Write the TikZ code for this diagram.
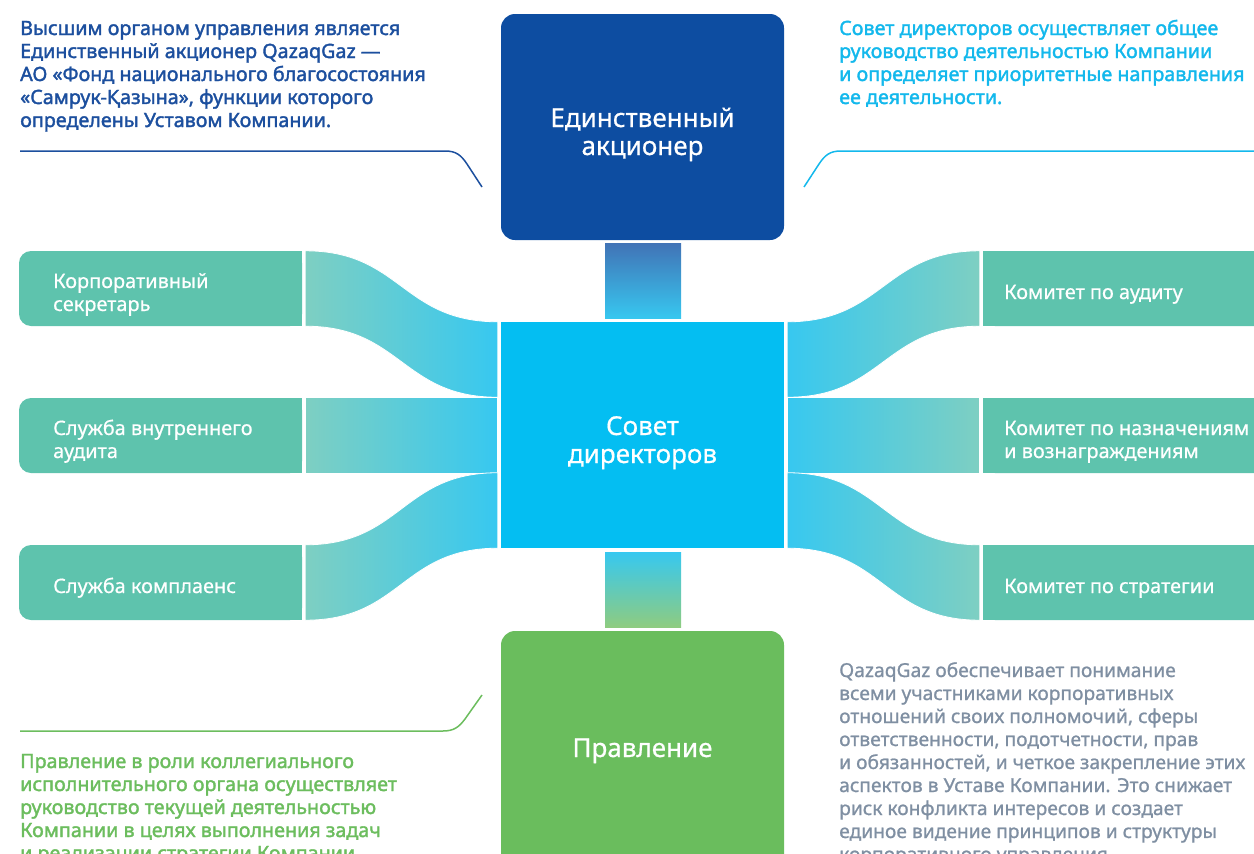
\documentclass[tikz,border=0pt]{standalone}
\usepackage{fontspec}
\setmainfont{Noto Sans}
\newfontfamily\parafont[FakeBold=1.8]{Noto Sans}
\newfontfamily\grayfont[FakeBold=1]{Noto Sans}
\newfontfamily\lblfont[FakeBold=0.6]{Noto Sans}
\usetikzlibrary{calc}
\definecolor{dblue}{HTML}{0D4DA1}
\definecolor{cyanbox}{HTML}{04BEF2}
\definecolor{greenbox}{HTML}{6ABD5D}
\definecolor{tealbox}{HTML}{5EC3AD}
\definecolor{bandteal}{HTML}{7ECFC2}
\definecolor{bandcyan}{HTML}{37C8F0}
\definecolor{connblue}{HTML}{4173B6}
\definecolor{conngreen}{HTML}{8FCC7F}
\definecolor{txtblue}{HTML}{1C4F9E}
\definecolor{txtcyan}{HTML}{13B8EC}
\definecolor{txtgreen}{HTML}{6CBD5E}
\definecolor{txtgray}{HTML}{7F8FA2}
\begin{document}
\begin{tikzpicture}[x=1pt,y=-1pt,
  orgbox/.style={inner sep=0pt, minimum width=283pt},
  sidebox/.style={fill=tealbox, rounded corners=12pt, inner sep=0pt, minimum width=283pt, minimum height=75pt},
  lbl/.style={text=white, font=\lblfont\fontsize{19.9}{23}\selectfont, inner sep=0pt, anchor=base west},
  biglbl/.style={text=white, font=\lblfont\fontsize{26}{28}\selectfont, inner sep=0pt, anchor=base},
  para/.style={inner sep=0pt, anchor=base west, font=\parafont\fontsize{19.7}{23}\selectfont},
  grpara/.style={inner sep=0pt, anchor=base west, font=\grayfont\fontsize{19.2}{23}\selectfont},
  deco/.style={line width=1.5pt},
  band/.style={draw=white, line width=0.8pt}]
\useasboundingbox (0,0) rectangle (1254,854);
\clip (0,0) rectangle (1254,854);

% main boxes
\node[orgbox, fill=dblue, rounded corners=14pt, minimum height=226pt] (sh) at (642.5,127) {};
\node[orgbox, fill=cyanbox, minimum height=226pt] (sd) at (642.5,435) {};
\node[orgbox, fill=greenbox, rounded corners=14pt, minimum height=300pt] (pr) at (642.5,781) {};

% vertical connectors
\shade[top color=connblue, bottom color=bandcyan] ($(sh.south)+(-37.5,3)$) rectangle ($(sd.north)+(38.5,-3)$);
\shade[top color=bandcyan, bottom color=conngreen] ($(sd.south)+(-37.5,4)$) rectangle ($(pr.north)+(38.5,-3)$);

% side boxes left
\node[sidebox] (cs) at (160.5,288.5) {};
\node[sidebox] (isa) at (160.5,435.5) {};
\node[sidebox] (kc) at (160.5,582.5) {};
\foreach \n in {cs,isa,kc}
  \fill[tealbox] ($(\n.north east)+(-20,0)$) rectangle (\n.south east);
% side boxes right
\node[sidebox] (ka) at (1124.5,288.5) {};
\node[sidebox] (kn) at (1124.5,435.5) {};
\node[sidebox] (ks) at (1124.5,582.5) {};
\foreach \n in {ka,kn,ks}
  \fill[tealbox] ($(\n.north west)+(0,0)$) rectangle ($(\n.south west)+(20,0)$);

% anchor points on the board box
\coordinate (w0) at ($(sd.north west)+(-3,0)$);
\coordinate (w1) at ($(sd.north west)!1/3!(sd.south west)+(-3,0)$);
\coordinate (w2) at ($(sd.north west)!2/3!(sd.south west)+(-3,0)$);
\coordinate (w3) at ($(sd.south west)+(-3,0)$);
\coordinate (e0) at ($(sd.north east)+(3,0)$);
\coordinate (e1) at ($(sd.north east)!1/3!(sd.south east)+(3,0)$);
\coordinate (e2) at ($(sd.north east)!2/3!(sd.south east)+(3,0)$);
\coordinate (e3) at ($(sd.south east)+(3,0)$);

% left bands
\shade[band, left color=bandteal, right color=bandcyan]
  ($(cs.north east)+(3,0)$) to[out=0,in=180,looseness=1.2] (w0) -- (w1)
  to[out=180,in=0,looseness=1.2] ($(cs.south east)+(3,0)$) -- cycle;
\shade[band, left color=bandteal, right color=bandcyan]
  ($(isa.north east)+(3,0)$) -- ($(w1|-isa.north)$) -- ($(w2|-isa.south)$) -- ($(isa.south east)+(3,0)$) -- cycle;
\shade[band, left color=bandteal, right color=bandcyan]
  ($(kc.north east)+(3,0)$) to[out=0,in=180,looseness=1.2] (w2) -- (w3)
  to[out=180,in=0,looseness=1.2] ($(kc.south east)+(3,0)$) -- cycle;
% right bands
\shade[band, left color=bandcyan, right color=bandteal]
  ($(ka.north west)+(-3,0)$) to[out=180,in=0,looseness=1.2] (e0) -- (e1)
  to[out=0,in=180,looseness=1.2] ($(ka.south west)+(-3,0)$) -- cycle;
\shade[band, left color=bandcyan, right color=bandteal]
  ($(kn.north west)+(-3,0)$) -- ($(e1|-kn.north)$) -- ($(e2|-kn.south)$) -- ($(kn.south west)+(-3,0)$) -- cycle;
\shade[band, left color=bandcyan, right color=bandteal]
  ($(ks.north west)+(-3,0)$) to[out=180,in=0,looseness=1.2] (e2) -- (e3)
  to[out=0,in=180,looseness=1.2] ($(ks.south west)+(-3,0)$) -- cycle;

% main labels
\node[biglbl] (sh1) at (642.5,127) {Единственный};
\node[biglbl] (sh2) at (642.5,155) {акционер};
\node[biglbl] (sd1) at (642.5,435) {Совет};
\node[biglbl] (sd2) at (642.5,463) {директоров};
\node[biglbl] (pr1) at (642.5,757) {Правление};

% side labels
\node[lbl] (cs1) at (53,288) {Корпоративный};
\node[lbl] (cs2) at (53,311) {секретарь};
\node[lbl] (isa1) at (53,435) {Служба внутреннего};
\node[lbl] (isa2) at (53,458) {аудита};
\node[lbl] (kc1) at (53,593) {Служба комплаенс};
\node[lbl] (ka1) at (1004,299) {Комитет по аудиту};
\node[lbl] (kn1) at (1004,435) {Комитет по назначениям};
\node[lbl] (kn2) at (1004,458) {и вознаграждениям};
\node[lbl] (ks1) at (1004,593) {Комитет по стратегии};

% decorative lines
\draw[deco, txtblue] (20,151) -- (445,151) .. controls (456,151) and (461,155) .. (467,164) -- (482,187);
\draw[deco, txtcyan] (804,187) -- (819,164) .. controls (825,155) and (830,151) .. (841,151) -- (1254,151);
\draw[deco, txtgreen] (20,731) -- (443,731) .. controls (454,731) and (459,727) .. (465,719) -- (482,695);

% paragraphs
\foreach \t [count=\i from 0] in {{Высшим органом управления является},{Единственный акционер QazaqGaz —},{АО «Фонд национального благосостояния},{«Самрук-Қазына», функции которого},{определены Уставом Компании.}}
  \node[para, text=txtblue] (tl\i) at (20,35+23*\i) {\t};
\foreach \t [count=\i from 0] in {{Совет директоров осуществляет общее},{руководство деятельностью Компании},{и определяет приоритетные направления},{ее деятельности.}}
  \node[para, text=txtcyan] (tr\i) at (839,35+23*\i) {\t};
\foreach \t [count=\i from 0] in {{Правление в роли коллегиального},{исполнительного органа осуществляет},{руководство текущей деятельностью},{Компании в целях выполнения задач},{и реализации стратегии Компании.}}
  \node[para, text=txtgreen] (bl\i) at (20,768+23*\i) {\t};
\foreach \t [count=\i from 0] in {{QazaqGaz обеспечивает понимание},{всеми участниками корпоративных},{отношений своих полномочий, сферы},{ответственности, подотчетности, прав},{и обязанностей, и четкое закрепление этих},{аспектов в Уставе Компании. Это снижает},{риск конфликта интересов и создает},{единое видение принципов и структуры},{корпоративного управления.}}
  \node[grpara, text=txtgray] (br\i) at (839,677+23*\i) {\t};
\end{tikzpicture}
\end{document}
